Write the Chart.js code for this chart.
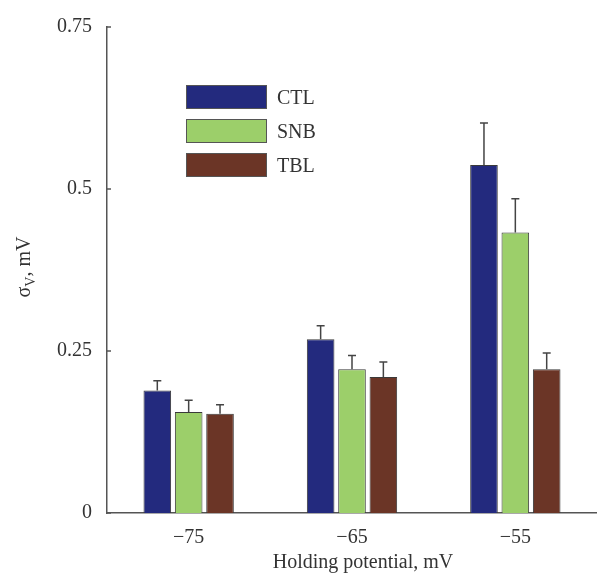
<!DOCTYPE html>
<html>
<head>
<meta charset="utf-8">
<title>σV vs holding potential</title>
<script src="https://cdn.jsdelivr.net/npm/chart.js@4.4.0/dist/chart.umd.min.js"></script>
<style>
  html, body { margin: 0; padding: 0; background: #fff; }
  #wrap { width: 597px; height: 573px; position: relative; }
</style>
</head>
<body>
<div id="wrap"><canvas id="sigmaChart"></canvas></div>
<script>
// Holding potentials (mV) and mean sigma_V (mV) with SEM for each condition
const potentials = [-75, -65, -55];
const seriesNames = ['CTL', 'SNB', 'TBL'];
const ctlValues = [0.189, 0.268, 0.537];
const snbValues = [0.156, 0.222, 0.433];
const tblValues = [0.153, 0.210, 0.222];
const ctlErrors = [0.015, 0.021, 0.065];
const snbErrors = [0.018, 0.021, 0.052];
const tblErrors = [0.014, 0.023, 0.025];
const yTicks = [0, 0.25, 0.5, 0.75];

const fillColors = ['#232a7e', '#9ccf6a', '#6b3526'];
const serif = '"Liberation Serif", "Times New Roman", serif';

function toPoints(values) {
  return values.map(function (v, i) { return { x: potentials[i], y: v }; });
}

const valueSets = [ctlValues, snbValues, tblValues];
const errorSets = [ctlErrors, snbErrors, tblErrors];

const datasets = seriesNames.map(function (name, i) {
  return {
    label: name,
    data: toPoints(valueSets[i]),
    errors: errorSets[i],
    backgroundColor: fillColors[i],
    borderColor: '#3a3a3a',
    borderWidth: 1,
    categoryPercentage: 0.576,
    barPercentage: 0.88
  };
});

// Error bars (upper half only), inward y ticks, legend box and axis titles
const extrasPlugin = {
  id: 'extras',
  afterDatasetsDraw: function (chart) {
    const ctx = chart.ctx;
    const yScale = chart.scales.y;
    ctx.save();
    ctx.strokeStyle = '#444';
    ctx.lineWidth = 1.5;
    chart.data.datasets.forEach(function (ds, di) {
      const meta = chart.getDatasetMeta(di);
      meta.data.forEach(function (bar, i) {
        const top = yScale.getPixelForValue(ds.data[i].y + ds.errors[i]);
        ctx.beginPath();
        ctx.moveTo(bar.x, bar.y);
        ctx.lineTo(bar.x, top);
        ctx.moveTo(bar.x - 4, top);
        ctx.lineTo(bar.x + 4, top);
        ctx.stroke();
      });
    });
    ctx.restore();
  },
  afterDraw: function (chart) {
    const ctx = chart.ctx;
    const area = chart.chartArea;
    const yScale = chart.scales.y;
    ctx.save();

    // small tick marks pointing into the plot
    ctx.strokeStyle = '#555';
    ctx.lineWidth = 1.5;
    yScale.ticks.forEach(function (t) {
      const py = yScale.getPixelForValue(t.value);
      ctx.beginPath();
      ctx.moveTo(area.left, py);
      ctx.lineTo(area.left + 4, py);
      ctx.stroke();
    });

    // legend
    const lx = 186, ly = 85, bw = 81, bh = 24, step = 34;
    ctx.font = '20px ' + serif;
    ctx.textBaseline = 'middle';
    ctx.textAlign = 'left';
    chart.data.datasets.forEach(function (ds, i) {
      const y = ly + i * step;
      ctx.fillStyle = ds.backgroundColor;
      ctx.fillRect(lx, y, bw, bh);
      ctx.strokeStyle = '#555';
      ctx.lineWidth = 1;
      ctx.strokeRect(lx + 0.5, y + 0.5, bw - 1, bh - 1);
      ctx.fillStyle = '#333';
      ctx.fillText(ds.label, lx + 91, y + bh / 2 + 2);
    });

    // x axis title
    ctx.fillStyle = '#333';
    ctx.textAlign = 'center';
    ctx.fillText('Holding potential, mV', 363, 563);

    // y axis title with subscript
    ctx.translate(25, 267);
    ctx.rotate(-Math.PI / 2);
    const main = '20px ' + serif;
    const sub = '14px ' + serif;
    ctx.font = main;
    const wSigma = ctx.measureText('σ').width;
    const wRest = ctx.measureText(', mV').width;
    ctx.font = sub;
    const wSub = ctx.measureText('V').width;
    let x = -(wSigma + wSub + wRest) / 2;
    ctx.textAlign = 'left';
    ctx.font = main;
    ctx.fillText('σ', x, 0);
    x += wSigma;
    ctx.font = sub;
    ctx.fillText('V', x, 6);
    x += wSub;
    ctx.font = main;
    ctx.fillText(', mV', x, 0);
    ctx.restore();
  }
};

new Chart(document.getElementById('sigmaChart'), {
  type: 'bar',
  data: { datasets: datasets },
  plugins: [extrasPlugin],
  options: {
    responsive: true,
    maintainAspectRatio: false,
    animation: false,
    layout: { padding: { top: 21, right: 0, left: 0, bottom: 0 } },
    plugins: {
      legend: { display: false },
      tooltip: { enabled: false }
    },
    scales: {
      x: {
        type: 'linear',
        min: -80,
        max: -50,
        offset: false,
        grid: { display: false, drawTicks: false, offset: false },
        border: { display: true, color: '#555', width: 1.5 },
        afterBuildTicks: function (scale) {
          scale.ticks = potentials.map(function (v) { return { value: v }; });
        },
        afterFit: function (scale) { scale.height = 60; },
        ticks: {
          padding: 13,
          color: '#333',
          font: { family: serif, size: 20 },
          callback: function (v) { return '\u2212' + Math.abs(v); }
        }
      },
      y: {
        min: 0,
        max: 0.75,
        grid: { display: false, drawTicks: false },
        border: { display: true, color: '#555', width: 1.5 },
        afterBuildTicks: function (scale) {
          scale.ticks = yTicks.map(function (v) { return { value: v }; });
        },
        afterFit: function (scale) { scale.width = 107; },
        ticks: {
          padding: 15,
          color: '#333',
          font: { family: serif, size: 20 },
          callback: function (v) { return String(v); }
        }
      }
    }
  }
});
</script>
</body>
</html>
